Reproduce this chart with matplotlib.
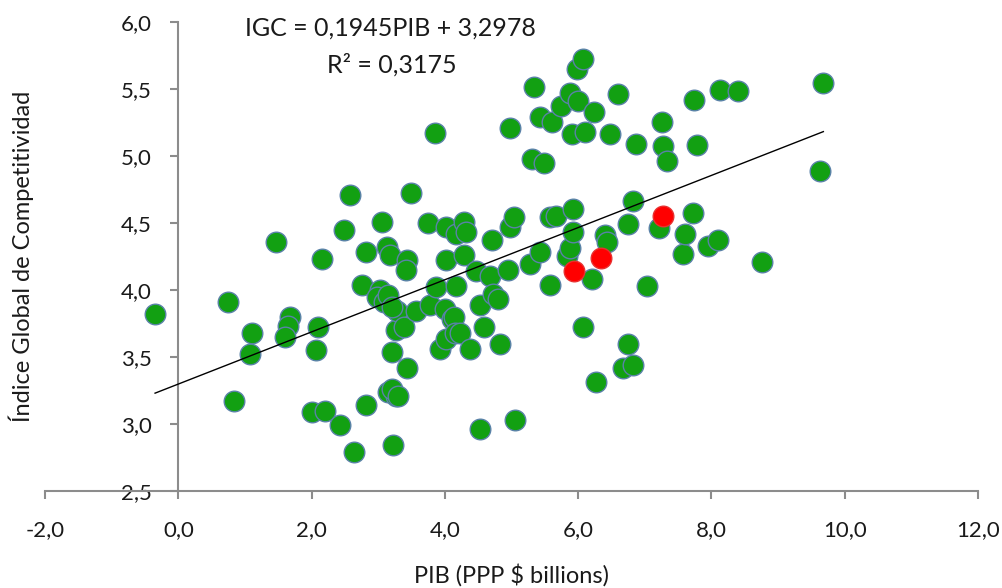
import numpy as np
import matplotlib
matplotlib.use("Agg")
import matplotlib.pyplot as plt
from matplotlib.ticker import FuncFormatter, MultipleLocator

plt.rcParams['font.family'] = ['Lato', 'DejaVu Sans']

# PIB (x) and IGC (y) for each country
pib = [-0.35, 0.74, 0.84, 1.11, 1.08, 1.46, 1.67, 1.64, 1.60, 2.10,
       2.07, 2.15, 2.01, 2.20, 2.43, 2.64, 2.82, 2.49, 2.57, 2.76,
       2.81, 3.06, 3.13, 3.18, 3.03, 2.98, 3.08, 3.15, 3.22, 3.15,
       3.26, 3.21, 3.26, 3.28, 3.20, 3.39, 3.43, 3.21, 3.29, 3.43,
       3.42, 3.49, 3.56, 3.78, 3.75, 3.85, 3.86, 3.93, 4.00, 4.02,
       4.02, 4.02, 4.11, 4.13, 4.16, 4.17, 4.15, 4.23, 4.28, 4.29,
       4.31, 4.38, 4.46, 4.52, 4.52, 4.59, 4.68, 4.71, 4.72, 4.79,
       4.82, 4.95, 4.98, 5.03, 4.97, 5.05, 5.27, 5.31, 5.49, 5.33,
       5.42, 5.43, 5.61, 5.58, 5.66, 5.58, 5.74, 5.83, 5.88, 5.88,
       5.91, 5.93, 5.93, 5.99, 6.07, 6.00, 6.07, 6.10, 6.21, 6.24,
       6.27, 6.41, 6.44, 6.48, 6.60, 6.68, 6.83, 6.75, 6.75, 6.83,
       6.87, 7.04, 7.21, 7.26, 7.28, 7.33, 7.58, 7.61, 7.73, 7.74,
       7.78, 7.95, 8.10, 8.13, 8.40, 8.76, 9.63, 9.68]
igc = [3.82, 3.91, 3.17, 3.68, 3.52, 4.36, 3.80, 3.73, 3.65, 3.72,
       3.55, 4.23, 3.09, 3.10, 2.99, 2.79, 3.14, 4.45, 4.71, 4.04,
       4.28, 4.51, 4.32, 4.26, 4.00, 3.95, 3.91, 3.96, 2.84, 3.24,
       3.21, 3.54, 3.70, 3.84, 3.87, 3.72, 3.42, 3.26, 3.21, 4.22,
       4.15, 4.72, 3.84, 3.89, 4.50, 5.17, 4.02, 3.56, 3.86, 4.22,
       4.47, 3.63, 3.78, 3.80, 4.03, 4.42, 3.68, 3.68, 4.51, 4.26,
       4.43, 3.56, 4.14, 3.89, 2.96, 3.72, 4.10, 4.37, 3.97, 3.93,
       3.60, 4.15, 4.47, 4.54, 5.21, 3.03, 4.19, 4.98, 4.95, 5.51,
       4.28, 5.29, 5.25, 4.54, 4.55, 4.04, 5.37, 4.25, 4.31, 5.47,
       5.16, 4.60, 4.43, 5.65, 5.72, 5.41, 3.72, 5.18, 4.08, 5.33,
       3.31, 4.41, 4.36, 5.16, 5.46, 3.42, 3.44, 3.60, 4.49, 4.66,
       5.09, 4.03, 4.46, 5.25, 5.07, 4.96, 4.27, 4.42, 4.57, 5.42,
       5.08, 4.33, 4.37, 5.49, 5.48, 4.21, 4.89, 5.54]

# highlighted countries
pib_red = [5.94, 6.35, 7.28]
igc_red = [4.14, 4.24, 4.55]

slope = 0.1945
intercept = 3.2978
r2 = 0.3175

fig = plt.figure(figsize=(10.03, 5.88), dpi=100)
ax = fig.add_axes([0.045, 0.165, 0.930, 0.798])

ax.scatter(pib, igc, s=220, c='#12a012', edgecolors='#5a82a8',
           linewidths=1.0, zorder=3)
ax.scatter(pib_red, igc_red, s=220, c='#ff0000', edgecolors='#e83030',
           linewidths=1.0, zorder=4)

xl = np.array([min(pib), max(pib)])
ax.plot(xl, slope * xl + intercept, color='black', lw=1.0, zorder=5)

ax.set_xlim(-2, 12)
ax.set_ylim(2.5, 6.0)
ax.xaxis.set_major_locator(MultipleLocator(2))
ax.yaxis.set_major_locator(MultipleLocator(0.5))

fmt = FuncFormatter(lambda v, p: ("%.1f" % v).replace('.', ','))
ax.xaxis.set_major_formatter(fmt)
ax.yaxis.set_major_formatter(fmt)

for s in ['top', 'right']:
    ax.spines[s].set_visible(False)
ax.spines['left'].set_position(('data', 0))
for s in ['left', 'bottom']:
    ax.spines[s].set_color('#8c8c8c')
    ax.spines[s].set_linewidth(1.5)

ax.tick_params(axis='both', colors='#8c8c8c', length=6, width=1.5,
               labelcolor='#1a1a1a', labelsize=16)
ax.tick_params(axis='x', pad=15)
ax.tick_params(axis='y', pad=13)

ax.set_xlabel('PIB (PPP $ billions)', fontsize=17, color='#1a1a1a')
ax.set_ylabel('Índice Global de Competitividad', fontsize=17, color='#1a1a1a')
ax.xaxis.set_label_coords(0.5, -0.155)
ax.yaxis.set_label_coords(-0.012, 0.5)

eq = "IGC = %sPIB + %s" % (("%.4f" % slope).replace('.', ','),
                           ("%.4f" % intercept).replace('.', ','))
ax.text(3.18, 5.955, eq, ha='center', va='center', fontsize=18,
        color='#1a1a1a')
ax.text(3.2, 5.68, "R² = %s" % ("%.4f" % r2).replace('.', ','),
        ha='center', va='center', fontsize=18, color='#1a1a1a')

fig.savefig('out.png', dpi=100)
